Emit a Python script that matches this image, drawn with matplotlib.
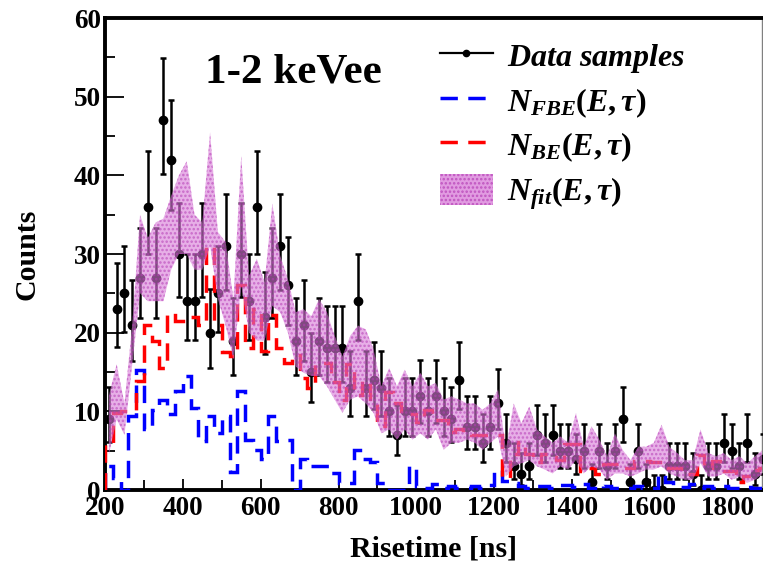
import numpy as np
import matplotlib
matplotlib.use('Agg')
import matplotlib.pyplot as plt
from matplotlib.lines import Line2D
from matplotlib.patches import Patch
from matplotlib.ticker import MultipleLocator

# risetime binning (ns), 20 ns bins
risetime_edges = np.arange(200, 1901, 20)

data_counts = [
    9, 23, 25, 21, 27, 36, 27, 47, 42, 30,
    24, 24, 30, 20, 25, 31, 19, 30, 24, 36,
    22, 27, 31, 26, 19, 21, 15, 19, 18, 18,
    18, 13, 24, 13, 14, 13, 10, 7, 10, 10,
    12, 10, 12, 10, 9, 14, 8, 8, 6, 8,
    11, 6, 3, 2, 3, 7, 6, 7, 5, 5,
    4, 5, 1, 5, 3, 5, 9, 1, 5, 1,
    0, 0, 3, 3, 3, 2, 0, 3, 3, 6,
    5, 3, 6, 2, 4,
]

n_fbe = [
    3, 1.5, 0, 9.4, 15.3, 7.7, 10.2, 11.5, 9.6, 12.6,
    14.5, 10.4, 6.2, 9.4, 7.2, 9.4, 2.3, 12.6, 6.4, 5.1,
    4, 9.4, 6.2, 6.4, 0, 4, 3.1, 3.1, 3.1, 2.1,
    0.85, 0.85, 5.1, 4, 3.5, 0.85, 0, 0, 0, 3,
    0.5, 0.3, 0.7, 0.3, 0.5, 0.3, 0.3, 0.5, 0.3, 0.6,
    2.6, 1.2, 0.9, 0.5, 0.3, 0.5, 0.5, 0.2, 0.6, 0.6,
    0.4, 0.7, 0.3, 0.6, 0.5, 0.3, 0.2, 0.2, 0.5, 0.3,
    0.3, 2, 1, 0.6, 0.4, 0.8, 0.3, 0.5, 0.2, 0.5,
    0.3, 0.2, 0.4, 0.2, 0.3,
]

n_be = [
    6, 9.8, 10, 10, 13.8, 21, 19, 15.5, 22.5, 21.5,
    21.5, 22, 21, 31, 21, 17.5, 17, 26, 18, 23,
    17.7, 22.3, 18, 16.2, 17.2, 14.3, 13, 16, 16.2, 13.7,
    11.5, 16, 12.1, 13.8, 11.3, 8.1, 12.4, 11, 9.6, 9.6,
    8.6, 10.2, 8.9, 8.9, 7.4, 7.8, 7.4, 7, 7, 7,
    7, 1.5, 4.6, 6.1, 4.6, 3.5, 4.6, 4.2, 3.8, 5.8,
    5.8, 2.4, 2.8, 2, 3.3, 3.3, 2.8, 2.8, 3.7, 3.7,
    3.5, 3.5, 2.8, 2.8, 2, 2, 4.4, 2.8, 3.7, 2.4,
    2.4, 1, 1.8, 2.6, 2.8,
]

# fit uncertainty band (lower / upper edge per bin)
fit_low = [
    4.5, 9, 7, 16, 25, 24, 24, 24, 28, 30,
    30, 28, 28, 31, 24.3, 20.9, 16.6, 26, 20, 19,
    19, 23.4, 22.6, 20, 15.7, 14.9, 14.5, 14.5, 13.2, 11.5,
    9.8, 11.5, 11.9, 11, 9.8, 7.2, 7.7, 6.4, 7.7, 6.4,
    7.2, 6.4, 7.7, 5.1, 6, 6, 6.4, 6, 5.1, 6,
    6.8, 1.7, 3, 3.4, 3.8, 3, 2.6, 2.1, 3, 2.6,
    3.8, 2.1, 3, 2.6, 1.3, 2.1, 2.1, 1.7, 2.1, 2.6,
    2.6, 3, 2.1, 1.7, 1.3, 1.3, 3.4, 1.7, 1.7, 2.1,
    1.3, 1.7, 0.9, 1.3, 2.1,
]

fit_high = [
    12, 16, 11, 21, 35, 32, 34, 34.5, 37.4, 40,
    41.8, 35, 34, 45.5, 32.8, 31.5, 24.3, 42.5, 27.2, 29.4,
    26.4, 36.4, 29.8, 26.8, 22.6, 23, 22.1, 24.3, 22.6, 19.6,
    17, 19.6, 20.9, 20.4, 17.9, 13.2, 15.5, 13.2, 15.3, 13.2,
    14.9, 13.2, 13.6, 11.5, 11.9, 11.5, 11, 11, 10.2, 11,
    12.8, 5.1, 11, 8.5, 10.6, 7.7, 6.8, 6, 6.8, 6,
    9.8, 5.5, 8.1, 6.4, 4.3, 7.2, 5.1, 3.8, 5.5, 5.5,
    6, 8.3, 5.5, 4.7, 3.8, 3.8, 7.7, 4.7, 4.3, 4.7,
    3.8, 4.3, 3.4, 4.3, 5.1,
]


def poisson_errors(counts):
    # Gehrels approximation of the 68% Poisson interval
    n = np.asarray(counts, dtype=float)
    low = np.where(n > 0, np.sqrt(np.clip(n - 0.25, 0, None)), 0.0)
    high = np.sqrt(n + 0.75) + 1.0
    return low, high


plt.rcParams['font.family'] = ['Liberation Serif', 'DejaVu Serif']
plt.rcParams['font.weight'] = 'bold'
plt.rcParams['mathtext.fontset'] = 'custom'
plt.rcParams['mathtext.it'] = 'Liberation Serif:italic:bold'
plt.rcParams['mathtext.rm'] = 'Liberation Serif:bold'
plt.rcParams['mathtext.bf'] = 'Liberation Serif:bold'
plt.rcParams['hatch.linewidth'] = 1.2

band_face = '#d77ad7'
band_dots = '#b63fb6'
dash = (0, (5, 3))

centers = 0.5 * (risetime_edges[:-1] + risetime_edges[1:])

fig = plt.figure(figsize=(7.63, 5.63), dpi=100)
ax = fig.add_axes([105 / 763, 73 / 563, 657 / 763, 472 / 563])

err_lo, err_hi = poisson_errors(data_counts)
ax.errorbar(centers, data_counts, yerr=[err_lo, err_hi], fmt='o', color='black',
            markersize=6, elinewidth=1.8, capsize=2.5, capthick=1.8, zorder=3)

ax.stairs(n_fbe, risetime_edges, baseline=0, color='blue', linewidth=2.5,
          linestyle=dash, zorder=4)
ax.stairs(n_be, risetime_edges, baseline=0, color='red', linewidth=2.5,
          linestyle=dash, zorder=4)

# fit band with a dotted fill pattern
ax.fill_between(centers, fit_low, fit_high, facecolor=band_face, edgecolor=band_dots,
                hatch='....', alpha=0.6, linewidth=0, zorder=5)

ax.set_xlim(200, 1888)
ax.set_ylim(0, 60)
ax.xaxis.set_major_locator(MultipleLocator(200))
ax.xaxis.set_minor_locator(MultipleLocator(100))
ax.yaxis.set_major_locator(MultipleLocator(10))
ax.yaxis.set_minor_locator(MultipleLocator(5))
ax.tick_params(axis='both', which='both', direction='in', labelsize=19.5,
               top=False, right=False, width=1.3)
ax.tick_params(axis='x', which='major', length=8, pad=4)
ax.tick_params(axis='x', which='minor', length=7)
ax.tick_params(axis='y', which='major', length=14, pad=3)
ax.tick_params(axis='y', which='minor', length=7)

for side in ('left', 'bottom', 'top'):
    ax.spines[side].set_linewidth(2.8)
ax.spines['right'].set_linewidth(1.0)
ax.spines['right'].set_color('#808080')

ax.set_xlabel('Risetime [ns]', fontsize=21.5, fontweight='bold', labelpad=11)
ax.set_ylabel('Counts', fontsize=21.5, fontweight='bold', labelpad=24)

ax.text(0.152, 0.885, '1-2 keVee', transform=ax.transAxes, fontsize=31,
        fontweight='bold', ha='left', va='center')

handles = [
    Line2D([], [], color='black', linewidth=1.6, marker='o', markersize=4.5),
    Line2D([], [], color='blue', linewidth=2.5, linestyle=dash),
    Line2D([], [], color='red', linewidth=2.5, linestyle=dash),
    Patch(facecolor=band_face, edgecolor=band_dots, hatch='....', alpha=0.75, linewidth=0),
]
labels = [
    r'$Data\ samples$',
    r'$N_{FBE}(E,\tau)$',
    r'$N_{BE}(E,\tau)$',
    r'$N_{fit}(E,\tau)$',
]
leg = ax.legend(handles, labels, loc='upper left', bbox_to_anchor=(440 / 763, 1 - 40 / 563),
                bbox_transform=fig.transFigure, frameon=False, fontsize=23,
                handlelength=1.65, handleheight=1.1, handletextpad=0.45,
                labelspacing=0.3, borderpad=0, borderaxespad=0)

fig.savefig('out.png', dpi=100)
